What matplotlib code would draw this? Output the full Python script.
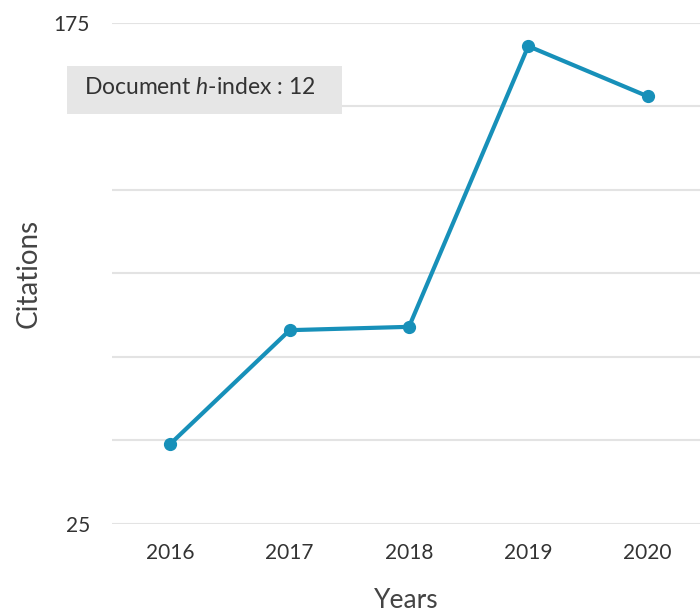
import matplotlib.pyplot as plt
from matplotlib.patches import Rectangle

years = [2016, 2017, 2018, 2019, 2020]
citations = [49, 83, 84, 168, 153]
grid_levels = [25, 50, 75, 100, 125, 150, 175]
shown_ticks = [25, 175]
h_index = 12

plt.rcParams['font.family'] = ['Lato', 'DejaVu Sans']
plt.rcParams['mathtext.fontset'] = 'custom'
plt.rcParams['mathtext.it'] = 'Lato:italic'

fig = plt.figure(figsize=(7, 6.15), dpi=100)
ax = fig.add_axes([0.16, 0.148, 0.84, 0.815])

for g in grid_levels:
    ax.axhline(g, color='#e3e3e3', lw=1.5, zorder=0)

ax.plot(years, citations, color='#1790b9', lw=3, marker='o', ms=8.5, zorder=3)

ax.set_xlim(2015.51, 2020.44)
ax.set_ylim(25, 175)
ax.set_xticks(years)
ax.set_xticklabels([str(y) for y in years], fontsize=15, color='#333333')
ax.set_yticks(shown_ticks)
ax.set_yticklabels([str(t) for t in shown_ticks], fontsize=15, color='#333333')
ax.tick_params(length=0)
ax.tick_params(axis='x', pad=14)
ax.tick_params(axis='y', pad=16)
for s in ax.spines.values():
    s.set_visible(False)

ax.set_ylabel('Citations', fontsize=20, color='#444444')
ax.yaxis.set_label_coords(-0.12, 0.5)
ax.set_xlabel('Years', fontsize=19, color='#444444')
ax.xaxis.set_label_coords(0.5, -0.128)

# h-index box
fig.patches.append(Rectangle((67 / 700, 1 - 114 / 615), 275 / 700, 48 / 615,
                             transform=fig.transFigure, facecolor='#e6e6e6',
                             edgecolor='none', zorder=5))
fig.text(84 / 700, 1 - 88 / 615, f'Document $h$-index : {h_index}',
         fontsize=16.5, color='#333333', va='center', ha='left', zorder=6)

fig.savefig('out.png', dpi=100)
